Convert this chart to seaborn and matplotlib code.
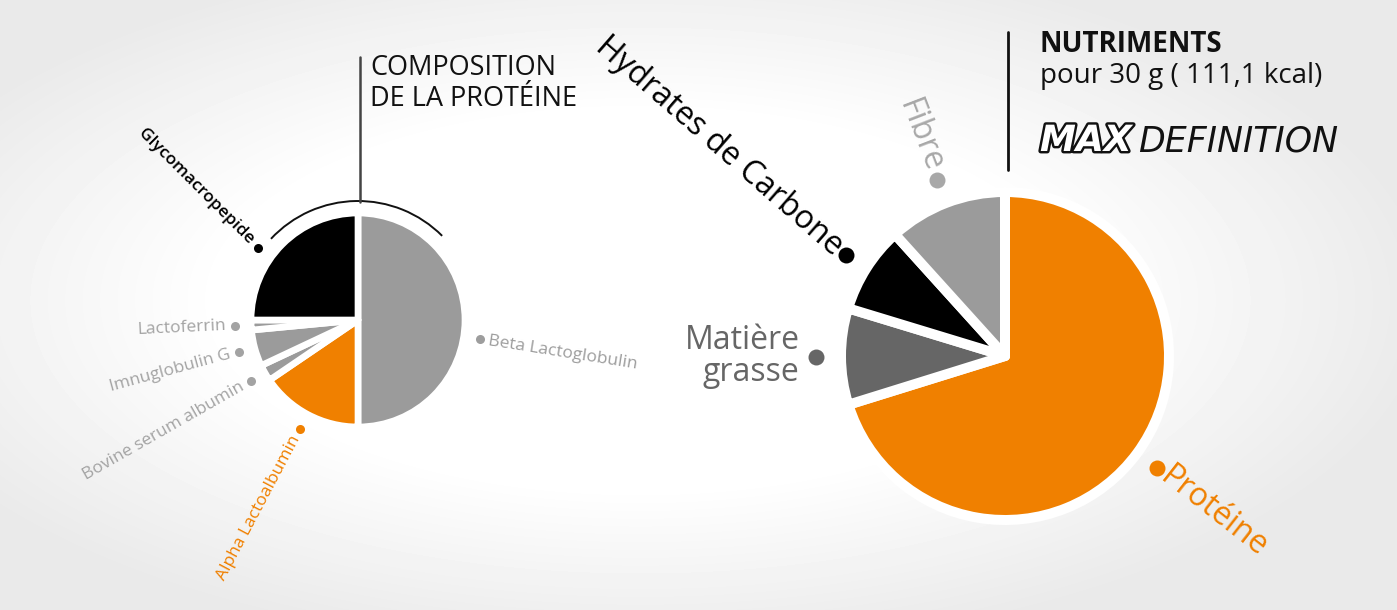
import numpy as np
import matplotlib.pyplot as plt
import matplotlib.patheffects as pe
from matplotlib.patches import Arc
import seaborn as sns

# composition de la protéine (%), clockwise from 12 o'clock
prot_labels = ['Beta Lactoglobulin', 'Alpha Lactoalbumin', 'Bovine serum albumin',
               'Imnuglobulin G', 'Lactoferrin', 'Glycomacropepide']
prot_values = [50, 15.5, 2.5, 5.5, 1.5, 25]

# nutriments pour 30 g (% of the total), clockwise from 12 o'clock
nutr_labels = ['Protéine', 'Matière\ngrasse', 'Hydrates de Carbone', 'Fibre']
nutr_values = [70.2, 9.5, 8.6, 11.7]

ORANGE = '#f08000'
prot_colors = ['#9b9b9b', ORANGE, '#9b9b9b', '#9b9b9b', '#9b9b9b', '#000000']
prot_text_colors = ['#9d9d9d', ORANGE, '#a3a3a3', '#a3a3a3', '#a3a3a3', '#000000']
nutr_colors = [ORANGE, '#666666', '#000000', '#9b9b9b']
nutr_text_colors = [ORANGE, '#666666', '#000000', '#a8a8a8']

sns.set_theme(style='white')
plt.rcParams['font.family'] = ['Open Sans', 'DejaVu Sans']

W, H = 1397, 610
fig = plt.figure(figsize=(W / 100, H / 100), dpi=100)
ax = fig.add_axes([0, 0, 1, 1])

# soft grey vignette behind everything
yy, xx = np.mgrid[0:H, 0:W]
d = np.sqrt(((xx - 640) / 760.0) ** 2 + ((yy - 300) / 340.0) ** 2)
bg = 1 - 0.085 * np.clip((d - 0.55) / 0.5, 0, 1)
ax.imshow(bg, extent=(0, W, 0, H), origin='upper', cmap='gray', vmin=0, vmax=1,
          aspect='auto', zorder=0)


def Y(py):
    return H - py


def label_pie(wedges, labels, colors, center, radius, fs, ms, nudge, rot_over,
              weight=None, gap=10, rdot=1.15):
    for i, (w, lab, col) in enumerate(zip(wedges, labels, colors)):
        ang = (w.theta1 + w.theta2) / 2 + nudge.get(i, 0)
        a = np.deg2rad(ang)
        dx, dy = np.cos(a), np.sin(a)
        px = center[0] + radius * rdot * dx
        py = center[1] + radius * rdot * dy
        ax.scatter([px], [py], s=ms ** 2, color=col, zorder=5, linewidths=0)
        tx = center[0] + (radius * rdot + gap) * dx
        ty = center[1] + (radius * rdot + gap) * dy
        if dx < -0.01:
            ha, rot = 'right', ang - 180
        else:
            ha, rot = 'left', ang
        rot = rot_over.get(i, rot)
        if rot == 0 and '\n' in lab:
            tx = px - gap - 8
        ax.text(tx, ty, lab, color=col, fontsize=fs, ha=ha, va='center',
                rotation=rot, rotation_mode='anchor', multialignment='right',
                fontweight=(weight or {}).get(i, 'normal'), linespacing=0.95, zorder=6)


# left pie
cL, rL = (358, Y(320)), 107
wl, _ = ax.pie(prot_values, colors=prot_colors, startangle=90, counterclock=False,
               center=cL, radius=rL,
               wedgeprops=dict(edgecolor='white', linewidth=4.8, joinstyle='round'))
label_pie(wl, prot_labels, prot_text_colors, cL, rL, fs=12.5, ms=6.5,
          nudge={0: -9, 5: 9}, rot_over={5: -45}, weight={5: 'semibold'}, gap=9)

# arc + line + title over the left pie
ax.add_patch(Arc(cL, 2 * 119, 2 * 119, theta1=45, theta2=137, color='#111111', lw=1.4))
ax.plot([360, 360], [Y(57), Y(202)], color='#444444', lw=1.8)
ax.text(370, Y(54), 'COMPOSITION\nDE LA PROTÉINE', fontsize=19.5, color='#111111',
        ha='left', va='top', linespacing=1.12)

# right pie
cR, rR = (1005, Y(356)), 164
wr, _ = ax.pie(nutr_values, colors=nutr_colors, startangle=90, counterclock=False,
               center=cR, radius=rR,
               wedgeprops=dict(edgecolor='white', linewidth=7.2, joinstyle='round'))
label_pie(wr, nutr_labels, nutr_text_colors, cR, rR, fs=23, ms=11.5,
          nudge={}, rot_over={0: -38, 1: 0, 2: -41}, gap=9)

# header block on the right
ax.plot([1008, 1008], [Y(32), Y(170)], color='#111111', lw=2)
ax.text(1040, Y(30), 'NUTRIMENTS', fontsize=20, fontweight='bold', color='#111111',
        ha='left', va='top')
ax.text(1040, Y(62), 'pour 30 g ( 111,1 kcal)', fontsize=20, color='#111111',
        ha='left', va='top')
ax.text(1040, Y(141), 'MAX', fontsize=26, fontweight='heavy', style='italic',
        family='DejaVu Sans', color='white', ha='left', va='center',
        path_effects=[pe.withStroke(linewidth=3.5, foreground='#111111')])
ax.text(1138, Y(141), 'DEFINITION', fontsize=25, style='italic', fontweight='light',
        family='DejaVu Sans', color='#111111', ha='left', va='center')

ax.set_xlim(0, W)
ax.set_ylim(0, H)
ax.axis('off')
fig.savefig('out.png', dpi=100)
